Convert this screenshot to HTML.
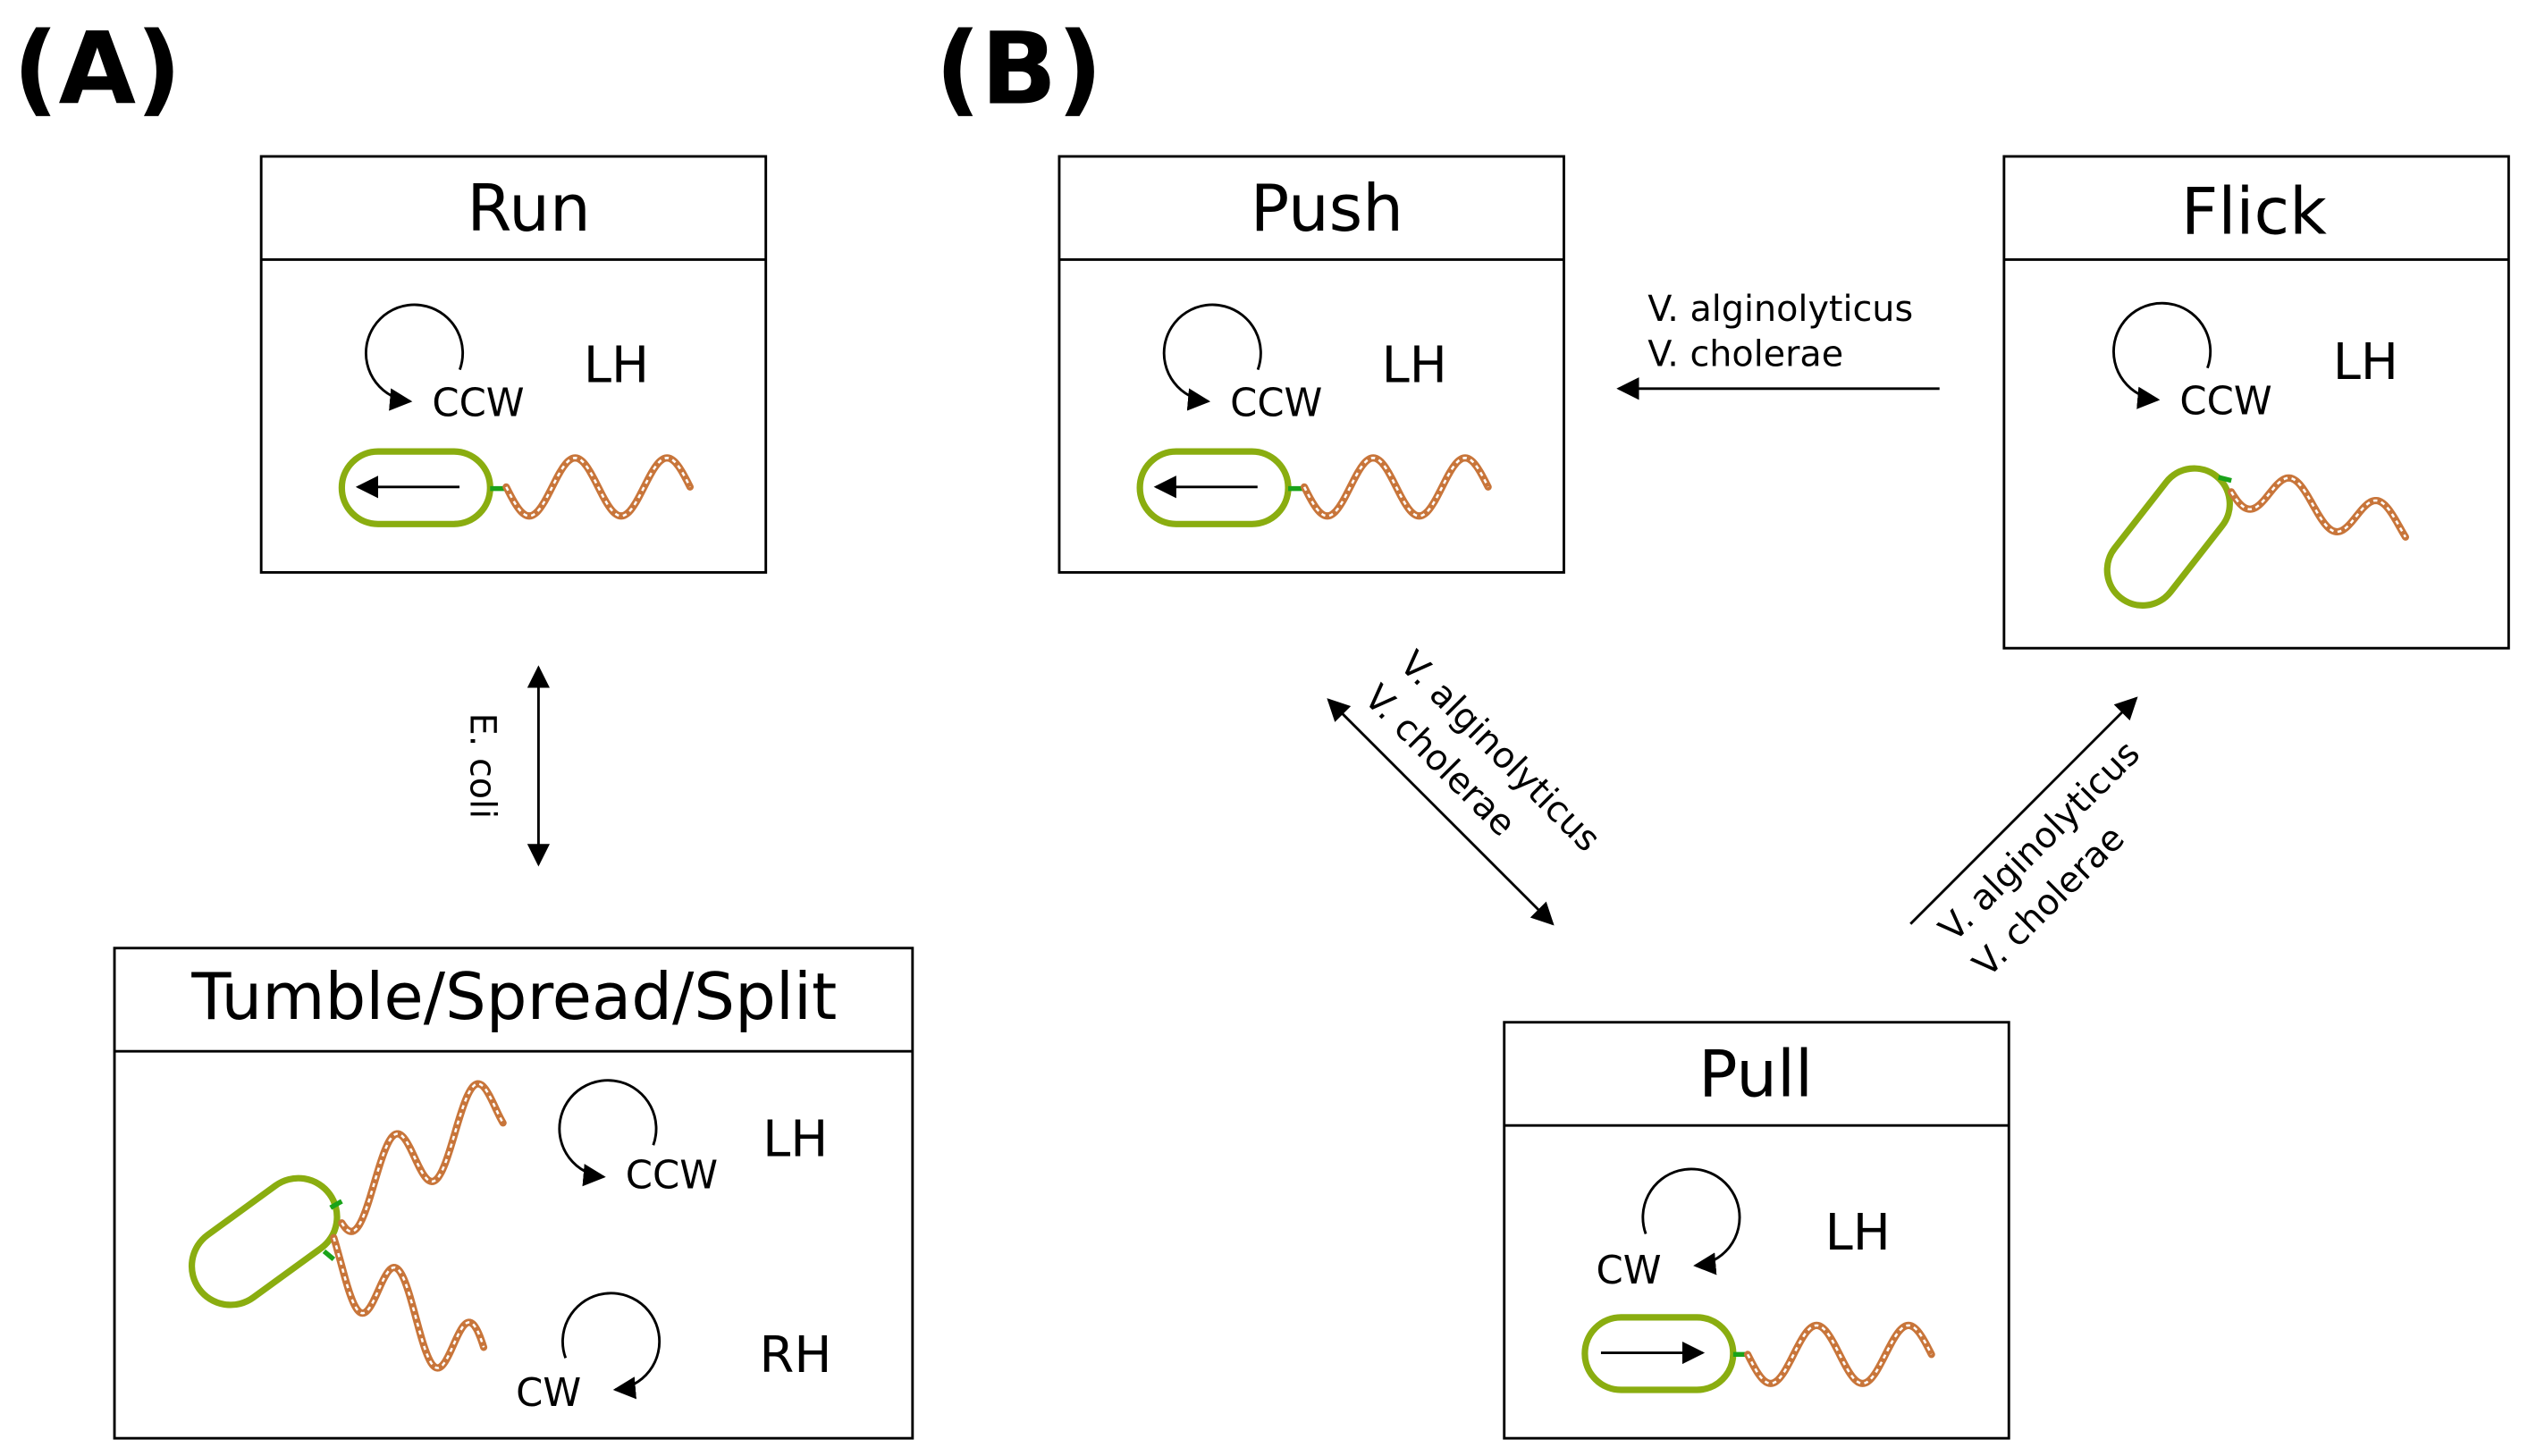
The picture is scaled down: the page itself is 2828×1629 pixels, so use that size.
<!DOCTYPE html>
<html><head><meta charset="utf-8">
<style>
html,body{margin:0;padding:0;background:#fff;}
svg{display:block;}
text{font-family:"DejaVu Sans","Liberation Sans",sans-serif;fill:#000;}
</style></head>
<body>
<svg id="s" width="2828" height="1629" viewBox="0 0 1568 903" preserveAspectRatio="none" xmlns="http://www.w3.org/2000/svg">
<defs>
<marker id="ah2" viewBox="0 0 10 10" refX="9" refY="5" markerWidth="14" markerHeight="14" orient="auto-start-reverse" markerUnits="userSpaceOnUse">
<path d="M0,0 L10,5 L0,10 z" fill="#000"/></marker>
</defs>
<g fill="none" stroke="#000" stroke-width="1.6">
<rect x="162" y="97" width="313" height="258" fill="#fff"/><line x1="162" y1="161" x2="475" y2="161"/>
<rect x="657" y="97" width="313" height="258" fill="#fff"/><line x1="657" y1="161" x2="970" y2="161"/>
<rect x="1243" y="97" width="313" height="305" fill="#fff"/><line x1="1243" y1="161" x2="1556" y2="161"/>
<rect x="71" y="588" width="495" height="304" fill="#fff"/><line x1="71" y1="652" x2="566" y2="652"/>
<rect x="933" y="634" width="313" height="258" fill="#fff"/><line x1="933" y1="698" x2="1246" y2="698"/>
</g>
<text x="8" y="64" font-size="62" font-weight="bold">(A)</text>
<text x="580" y="64" font-size="62" font-weight="bold">(B)</text>
<g font-size="40" text-anchor="middle">
<text x="328" y="143">Run</text>
<text x="823" y="143">Push</text>
<text x="1398" y="145">Flick</text>
<text x="319" y="632">Tumble/Spread/Split</text>
<text x="1089" y="680">Pull</text>
</g>
<g font-size="31">
<text x="362" y="237">LH</text><text x="857" y="237">LH</text><text x="1447" y="235">LH</text>
<text x="473" y="717">LH</text><text x="471" y="851">RH</text><text x="1132" y="775">LH</text>
</g>
<g font-size="24">
<text x="268" y="258">CCW</text><text x="763" y="258">CCW</text><text x="1352" y="257">CCW</text>
<text x="388" y="737">CCW</text><text x="320" y="872">CW</text><text x="990" y="796">CW</text>
</g>
<g id="loops" fill="none" stroke="#000" stroke-width="1.6"></g>
<!-- cells -->
<g fill="none" stroke="#8aad10" stroke-width="4">
<rect x="212" y="280" width="92" height="45" rx="22.5"/>
<rect x="707" y="280" width="92" height="45" rx="22.5"/>
<rect x="983" y="817" width="92" height="45" rx="22.5"/>
<rect x="-48" y="-22" width="96" height="44" rx="22" transform="translate(1345,333) rotate(-52)"/>
<rect x="-50" y="-24" width="100" height="48" rx="24" transform="translate(164,770) rotate(-36)"/>
</g>
<g stroke="#1aa31a" stroke-width="3">
<line x1="304" y1="303" x2="314" y2="303"/><line x1="799" y1="303" x2="809" y2="303"/><line x1="1075" y1="840" x2="1084" y2="840"/>
<line x1="1376" y1="296" x2="1384" y2="298"/><line x1="205" y1="749" x2="212" y2="745"/><line x1="201" y1="776" x2="207" y2="781"/>
</g>
<g fill="none" stroke="#000" stroke-width="1.6">
<line x1="285" y1="302" x2="222" y2="302" marker-end="url(#ah2)"/>
<line x1="780" y1="302" x2="717" y2="302" marker-end="url(#ah2)"/>
<line x1="993" y1="839" x2="1056" y2="839" marker-end="url(#ah2)"/>
</g>
<g id="flags"></g>
<!-- connectors -->
<g fill="none" stroke="#000" stroke-width="1.6">
<line x1="334" y1="414" x2="334" y2="536" marker-start="url(#ah2)" marker-end="url(#ah2)"/>
<line x1="1203" y1="241" x2="1004" y2="241" marker-end="url(#ah2)"/>
<line x1="824" y1="434" x2="963" y2="573" marker-start="url(#ah2)" marker-end="url(#ah2)"/>
<line x1="1185" y1="573" x2="1325" y2="433" marker-end="url(#ah2)"/>
</g>
<g font-size="22">
<text transform="translate(292,475) rotate(90)" text-anchor="middle">E. coli</text>
<text x="1022" y="199">V. alginolyticus</text>
<text x="1022" y="227">V. cholerae</text>
<text transform="translate(867,413) rotate(45)">V. alginolyticus</text>
<text transform="translate(845,434) rotate(45)">V. cholerae</text>
<text transform="translate(1212,585) rotate(-45)">V. alginolyticus</text>
<text transform="translate(1233,607) rotate(-45)">V. cholerae</text>
</g>
<script>
(function(){
var NS='http://www.w3.org/2000/svg';
var L=document.getElementById('loops');
function loop(cx,cy,cw){
  var r=30,a0,a1,sw;
  if(!cw){a0=20;a1=95;sw=0;}else{a0=160;a1=85;sw=1;}
  var rad=Math.PI/180;
  var x0=cx+r*Math.cos(a0*rad),y0=cy+r*Math.sin(a0*rad),x1=cx+r*Math.cos(a1*rad),y1=cy+r*Math.sin(a1*rad);
  var p=document.createElementNS(NS,'path');
  p.setAttribute('d','M'+x0+','+y0+' A'+r+','+r+' 0 1 '+sw+' '+x1+','+y1);
  p.setAttribute('marker-end','url(#ah2)');L.appendChild(p);
}
loop(257,219,0);loop(752,219,0);loop(1341,218,0);loop(377,700,0);
loop(379,832,1);loop(1049,755,1);
var g=document.getElementById('flags');
function flag(x0,y0,dx,dy,A,per,phase){
  var d='';var n=120;
  for(var i=0;i<=n;i++){var t=i/n;var x=x0+dx*t;var y=y0+dy*t+A*Math.sin(2*Math.PI*per*t+phase);
    d+=(i?'L':'M')+x.toFixed(2)+','+y.toFixed(2);}
  var p1=document.createElementNS(NS,'path');
  p1.setAttribute('d',d);p1.setAttribute('fill','none');p1.setAttribute('stroke','#c8753a');p1.setAttribute('stroke-width','4.5');p1.setAttribute('stroke-linecap','round');
  var p2=document.createElementNS(NS,'path');
  p2.setAttribute('d',d);p2.setAttribute('fill','none');p2.setAttribute('stroke','#fff');p2.setAttribute('stroke-width','1.4');p2.setAttribute('stroke-dasharray','2.5 2.5');
  g.appendChild(p1);g.appendChild(p2);
}
flag(314,302,114,0,18,2,0);
flag(809,302,114,0,18,2,0);
flag(1084,840,114,0,18,2,0);
flag(1384,300,108,28,13,2,0.4);
flag(212,746,100,-62,22,2,0.6);
flag(207,780,93,68,22,2,-0.6);
})();
</script>
</svg>
</body></html>
